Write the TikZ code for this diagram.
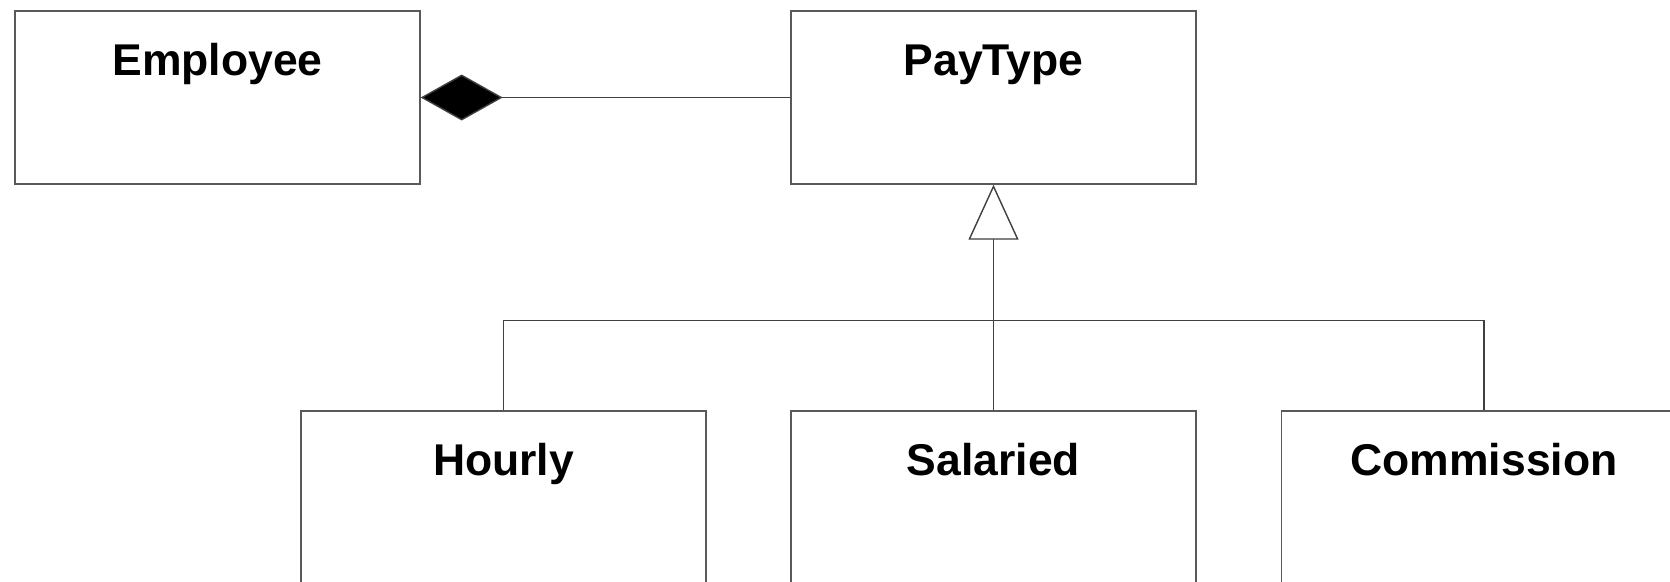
\documentclass[tikz,border=0pt]{standalone}
\usepackage{fontspec}
\setmainfont{Liberation Sans}
\usetikzlibrary{arrows.meta}

\begin{document}
\begin{tikzpicture}[
    x=1pt, y=-1pt,
    class/.style={rectangle, draw=black!65, line width=1.4pt, fill=white, minimum width=405pt,
        inner sep=0pt, text height=64pt, text depth=109pt, align=center,
        font=\fontsize{44.5}{53}\selectfont\bfseries},
    line/.style={draw=black!75, line width=1.4pt},
    compose/.style={line, -{Diamond[length=82pt, width=46pt, fill=black]}},
    inherit/.style={line, -{Triangle[open, length=55pt, width=50pt, fill=white]}}
]
\useasboundingbox (0,0) rectangle (1670,581);
\clip (0,0) rectangle (1670,581);

% Classes
\node[class] (employee) at (217.5,97.5) {Employee};
\node[class] (paytype) at (993.5,97.5) {PayType};

% Subclasses
\node[class] (hourly) at (503.5,497.5) {Hourly};
\node[class] (salaried) at (993.5,497.5) {Salaried};
\node[class] (commission) at (1484,497.5) {Commission};

% Composition
\draw[compose] (paytype.west) -- (employee.east);

% Inheritance
\draw[line] (hourly.north) -- ++(0,-90) -| (commission.north);
\draw[inherit] (salaried.north) -- (paytype.south);

\end{tikzpicture}
\end{document}
